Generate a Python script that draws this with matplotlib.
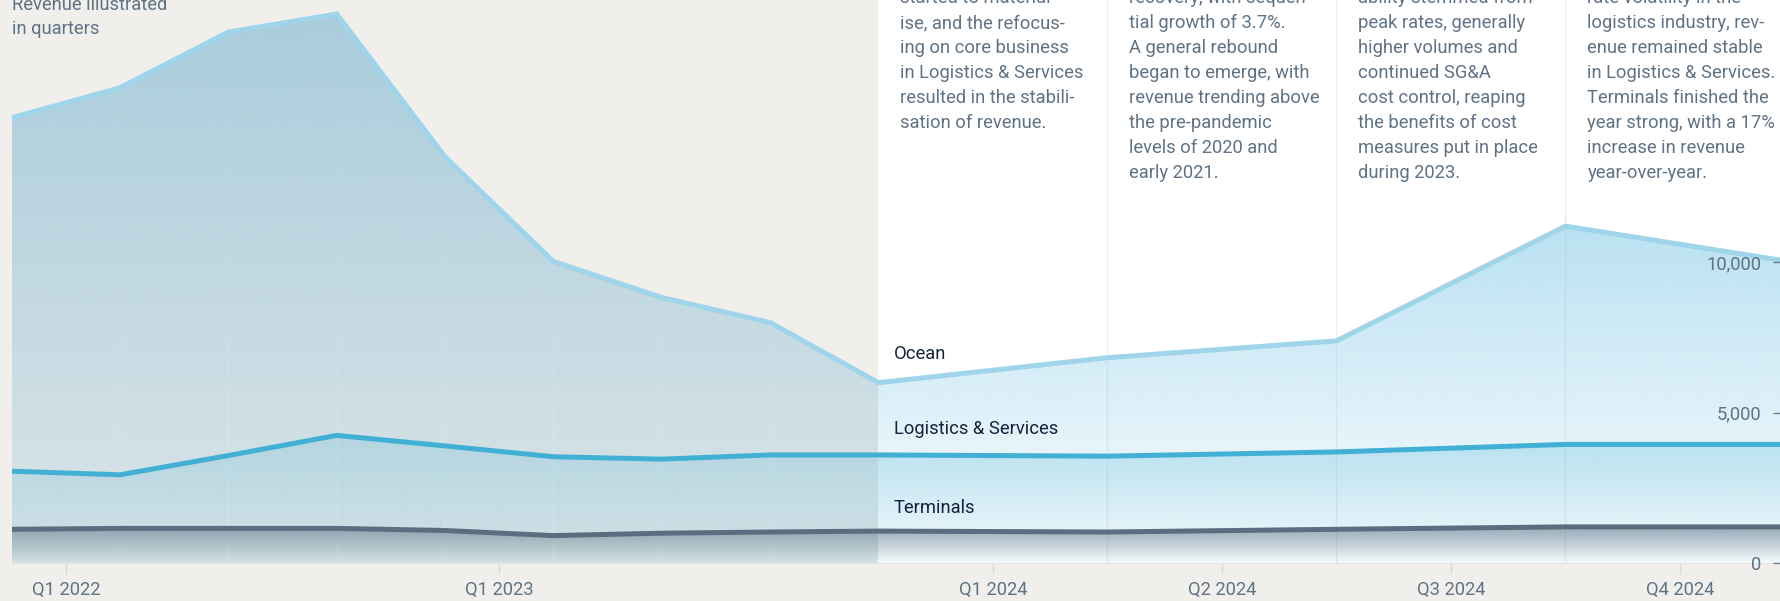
import numpy as np
import matplotlib
matplotlib.use("Agg")
import matplotlib.pyplot as plt
from matplotlib import transforms
from matplotlib.colors import to_rgb

# Revenue by segment (USD m), one point per quarter boundary, 2022 .. 2024
points = np.arange(13)
ocean = [14800, 15800, 17650, 18250, 13500, 10030, 8830, 8000, 6000, 6830, 7390, 11200, 10000]
logistics = [3060, 2940, 3580, 4250, 3900, 3540, 3460, 3600, 3600, 3560, 3700, 3950, 3950]
terminals = [1130, 1160, 1160, 1160, 1090, 920, 1000, 1040, 1070, 1040, 1130, 1210, 1210]
names = ["Ocean", "Logistics & Services", "Terminals"]
name_values = [7010, 4540, 1900]

left_ticks = [0.5, 4.5]
left_labels = ["Q1 2022", "Q1 2023"]
right_ticks = [8.5, 9.5, 10.5, 11.5]
right_labels = ["Q1 2024", "Q2 2024", "Q3 2024", "Q4 2024"]
y_ticks = [0, 5000, 10000]
y_labels = ["0", "5,000", "10,000"]

intro = ["Revenue illustrated", "in quarters"]
notes = [
    ["started to material-", "ise, and the refocus-", "ing on core business",
     "in Logistics & Services", "resulted in the stabili-", "sation of revenue."],
    ["recovery, with sequen-", "tial growth of 3.7%.", "A general rebound",
     "began to emerge, with", "revenue trending above", "the pre-pandemic",
     "levels of 2020 and", "early 2021."],
    ["ability stemmed from", "peak rates, generally", "higher volumes and",
     "continued SG&A", "cost control, reaping", "the benefits of cost",
     "measures put in place", "during 2023."],
    ["rate volatility in the", "logistics industry, rev-", "enue remained stable",
     "in Logistics & Services.", "Terminals finished the", "year strong, with a 17%",
     "increase in revenue", "year-over-year."],
]

BG = "#f0efeb"
TXT = "#5f7385"
NAVY = "#14233c"
line_colors = ["#9fd5ea", "#42b0d5", "#5a6e80"]
# fill colour, alpha at top, alpha at bottom -- per panel
left_fills = [("#a6cbdc", 0.96, 0.27), ("#42b0d5", 0.2, 0.05), ("#5a6e80", 0.55, 0.0)]
right_fills = [("#8fcfea", 1.0, 0.02), ("#42b0d5", 0.28, 0.04), ("#5a6e80", 0.55, 0.0)]

plt.rcParams["font.family"] = "Roboto"
FS = 13.2

W, H = 1781, 601
base_px = 563.3
left_px, split_px = 11.7, 878.4
q_right = 229.0
ytop = base_px / 0.0301

fig = plt.figure(figsize=(W / 100, H / 100), dpi=100, facecolor=BG)
ax_l = fig.add_axes([left_px / W, (H - base_px) / H, (split_px - left_px) / W, base_px / H])
ax_r = fig.add_axes([split_px / W, (H - base_px) / H, (W - split_px) / W, base_px / H])
ax_l.set_facecolor("none")
ax_r.set_facecolor("white")


def gradient_area(ax, y, color, a_top, a_bot):
    y = np.asarray(y, float)
    poly = ax.fill_between(points, y, 0, facecolor="none", edgecolor="none")
    grad = np.empty((256, 1, 4))
    grad[..., :3] = to_rgb(color)
    grad[..., 3] = np.linspace(a_bot, a_top, 256)[:, None]
    im = ax.imshow(grad, aspect="auto", origin="lower", interpolation="bilinear",
                   extent=[points[0], points[-1], 0, y.max()], zorder=1)
    im.set_clip_path(poly.get_paths()[0], transform=ax.transData)
    return poly.get_paths()[0]


ocean_paths = {}
for ax, fills in ((ax_l, left_fills), (ax_r, right_fills)):
    paths = [gradient_area(ax, vals, c, a0, a1)
             for vals, (c, a0, a1) in zip([ocean, logistics, terminals], fills)]
    ocean_paths[ax] = paths[0]
    for vals, c in zip([ocean, logistics, terminals], line_colors):
        ax.plot(points, vals, color=c, lw=3.6, solid_joinstyle="miter", zorder=3)
    ax.set_ylim(0, ytop)
    ax.set_axisbelow(True)
    for s in ("top", "left", "right"):
        ax.spines[s].set_visible(False)
    ax.spines["bottom"].set_color("#e3e3df")
    ax.tick_params(axis="x", which="major", length=8, width=1, color="#d8d8d4",
                   labelsize=FS, labelcolor=TXT, pad=5)
    ax.tick_params(axis="x", which="minor", length=0)

ax_l.set_xlim(0, 8)
ax_r.set_xlim(8, 8 + (W - split_px) / q_right)

ax_l.set_xticks(left_ticks, left_labels)
ax_l.set_xticks(np.arange(1, 8), minor=True)
ax_l.grid(axis="x", which="minor", color="white", alpha=0.4, lw=1.2)
ax_l.set_yticks([])
# in the grey panel the guides only show inside the ocean area
for t in ax_l.xaxis.get_minor_ticks():
    t.gridline.set_clip_path(ocean_paths[ax_l], transform=ax_l.transData)

ax_r.set_xticks(right_ticks, right_labels)
ax_r.set_xticks(np.arange(9, 12), minor=True)
ax_r.grid(axis="x", which="minor", color="#ededed", lw=1.0)
ax_r.yaxis.tick_right()
ax_r.set_yticks(y_ticks, y_labels)
ax_r.tick_params(axis="y", direction="in", length=6, width=1, color="#6b7c8a",
                 labelsize=FS, labelcolor=TXT, pad=-13.9)
plt.setp(ax_r.get_yticklabels(), ha="right")
ax_r.yaxis.set_zorder(5)


def stacked_lines(ax, x, lines, top_px, step_px, dx_px):
    base = transforms.blended_transform_factory(ax.transData, ax.transAxes)
    for i, s in enumerate(lines):
        tr = transforms.offset_copy(base, fig=fig, x=dx_px, y=-(top_px + i * step_px), units="dots")
        ax.text(x, 1, s, transform=tr, ha="left", va="center_baseline",
                fontsize=FS, color=TXT, zorder=6)


stacked_lines(ax_l, 0, intro, 3.2, 23.3, 0)
for i, col in enumerate(notes):
    stacked_lines(ax_r, 8 + i, col, -3.8, 25, 22)

name_tr = transforms.offset_copy(ax_r.transData, fig=fig, x=15.6, y=0, units="dots")
for n, v in zip(names, name_values):
    ax_r.text(8, v, n, transform=name_tr, ha="left", va="center_baseline",
              fontsize=FS, color=NAVY, zorder=6)

fig.savefig("out.png", dpi=100, facecolor=BG)
